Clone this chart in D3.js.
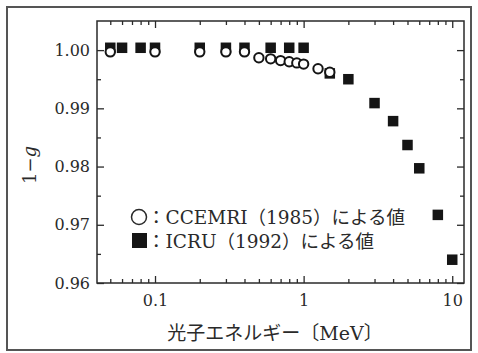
<!DOCTYPE html>
<html><head><meta charset="utf-8">
<script src="https://cdn.jsdelivr.net/npm/d3@7"></script>
<style>body{margin:0;background:#fff} svg{display:block}</style>
</head><body>
<svg id="c" width="478" height="353"></svg>
<script>
// ---- data ----
const ccemriEnergy = [0.05, 0.1, 0.2, 0.3, 0.4, 0.5, 0.6, 0.7, 0.8, 0.9, 1.0, 1.25, 1.5];
const ccemriValue  = [0.9997, 0.9997, 0.9997, 0.9997, 0.9997, 0.9987, 0.9985, 0.9982, 0.9980, 0.9978, 0.9976, 0.9968, 0.9962];
const icruEnergy = [0.05, 0.06, 0.08, 0.1, 0.2, 0.3, 0.4, 0.6, 0.8, 1.0, 1.5, 2, 3, 4, 5, 6, 8, 10];
const icruValue  = [1.0004, 1.0004, 1.0004, 1.0004, 1.0004, 1.0004, 1.0004, 1.0004, 1.0004, 1.0004, 0.9960, 0.9950, 0.9909, 0.9878, 0.9837, 0.9797, 0.9717, 0.9640];
const xTickValues = [0.1, 1, 10];
const xTickLabels = ["0.1", "1", "10"];
const xMinorTicks = [0.05,0.06,0.07,0.08,0.09,0.2,0.3,0.4,0.5,0.6,0.7,0.8,0.9,2,3,4,5,6,7,8,9];
const yTickValues = [0.96, 0.97, 0.98, 0.99, 1.00];
const yTickLabels = ["0.96", "0.97", "0.98", "0.99", "1.00"];
const yMinorTicks = [0.965, 0.975, 0.985, 0.995];
const xTitle = "光子エネルギー〔MeV〕";
const legendLabels = ["：CCEMRI（1985）による値", "：ICRU（1992）による値"];

// ---- layout ----
const L = 97, R = 464, T = 21, B = 283;
const svg = d3.select("#c");
const x = d3.scaleLog().domain([0.0407, 12]).range([L, R]);
const y = d3.scaleLinear().domain([0.96, 1.005]).range([B, T]);
const ink = "#2a2a2a";
const serif = "'DejaVu Serif', 'Noto Sans CJK JP', serif";

// outer frame
svg.append("rect").attr("x", 7).attr("y", 7).attr("width", 464).attr("height", 343)
  .attr("fill", "none").attr("stroke", "#555").attr("stroke-width", 2);

function styleAxis(g) {
  g.select(".domain").remove();
  g.selectAll("line").attr("stroke", ink).attr("stroke-width", 1.3);
  g.selectAll("text").attr("fill", ink).style("font-family", serif).style("font-size", "16px");
}

// bottom major with labels
svg.append("g").attr("transform", `translate(0,${B})`)
  .call(d3.axisBottom(x).tickValues(xTickValues).tickFormat((d,i)=>xTickLabels[i]).tickSize(-7).tickPadding(12))
  .call(styleAxis);
svg.append("g").attr("transform", `translate(0,${B})`)
  .call(d3.axisBottom(x).tickValues(xMinorTicks).tickFormat("").tickSize(-4)).call(styleAxis);
// top
svg.append("g").attr("transform", `translate(0,${T})`)
  .call(d3.axisTop(x).tickValues(xTickValues).tickFormat("").tickSize(-7)).call(styleAxis);
svg.append("g").attr("transform", `translate(0,${T})`)
  .call(d3.axisTop(x).tickValues(xMinorTicks).tickFormat("").tickSize(-4)).call(styleAxis);
// left
svg.append("g").attr("transform", `translate(${L},0)`)
  .call(d3.axisLeft(y).tickValues(yTickValues).tickFormat((d,i)=>yTickLabels[i]).tickSize(-7).tickPadding(7))
  .call(styleAxis);
svg.append("g").attr("transform", `translate(${L},0)`)
  .call(d3.axisLeft(y).tickValues(yMinorTicks).tickFormat("").tickSize(-4)).call(styleAxis);
// right
svg.append("g").attr("transform", `translate(${R},0)`)
  .call(d3.axisRight(y).tickValues(yTickValues).tickFormat("").tickSize(-7)).call(styleAxis);
svg.append("g").attr("transform", `translate(${R},0)`)
  .call(d3.axisRight(y).tickValues(yMinorTicks).tickFormat("").tickSize(-4)).call(styleAxis);

// plot frame
svg.append("rect").attr("x", L).attr("y", T).attr("width", R - L).attr("height", B - T)
  .attr("fill", "none").attr("stroke", ink).attr("stroke-width", 1.5);

// axis titles
svg.append("text").attr("x", 275).attr("y", 340).attr("text-anchor", "middle")
  .style("font-family", serif).style("font-size", "19px").attr("fill", ink).text(xTitle);
const yt = svg.append("text").attr("transform", "translate(36,165) rotate(-90)").attr("text-anchor", "middle")
  .style("font-family", serif).style("font-size", "18px").attr("fill", ink);
yt.append("tspan").text("1−");
yt.append("tspan").style("font-style", "italic").text("g");

// markers
const sq = 10.5;
svg.append("g").selectAll("rect").data(icruEnergy).join("rect")
  .attr("x", d => x(d) - sq/2).attr("y", (d,i) => y(icruValue[i]) - sq/2)
  .attr("width", sq).attr("height", sq).attr("fill", "#151515");
svg.append("g").selectAll("circle").data(ccemriEnergy).join("circle")
  .attr("cx", d => x(d)).attr("cy", (d,i) => y(ccemriValue[i])).attr("r", 4.7)
  .attr("fill", "#fff").attr("stroke", "#151515").attr("stroke-width", 2);

// legend
const lg = svg.append("g");
lg.append("circle").attr("cx", 139).attr("cy", 217).attr("r", 7.5)
  .attr("fill", "#fff").attr("stroke", ink).attr("stroke-width", 1.5);
lg.append("rect").attr("x", 132).attr("y", 233).attr("width", 15).attr("height", 15).attr("fill", "#151515");
lg.selectAll("text").data(legendLabels).join("text")
  .attr("x", 147).attr("y", (d,i) => 223.5 + i * 24)
  .style("font-family", serif).style("font-size", "18.5px").attr("fill", ink).text(d => d);
</script>
</body></html>
